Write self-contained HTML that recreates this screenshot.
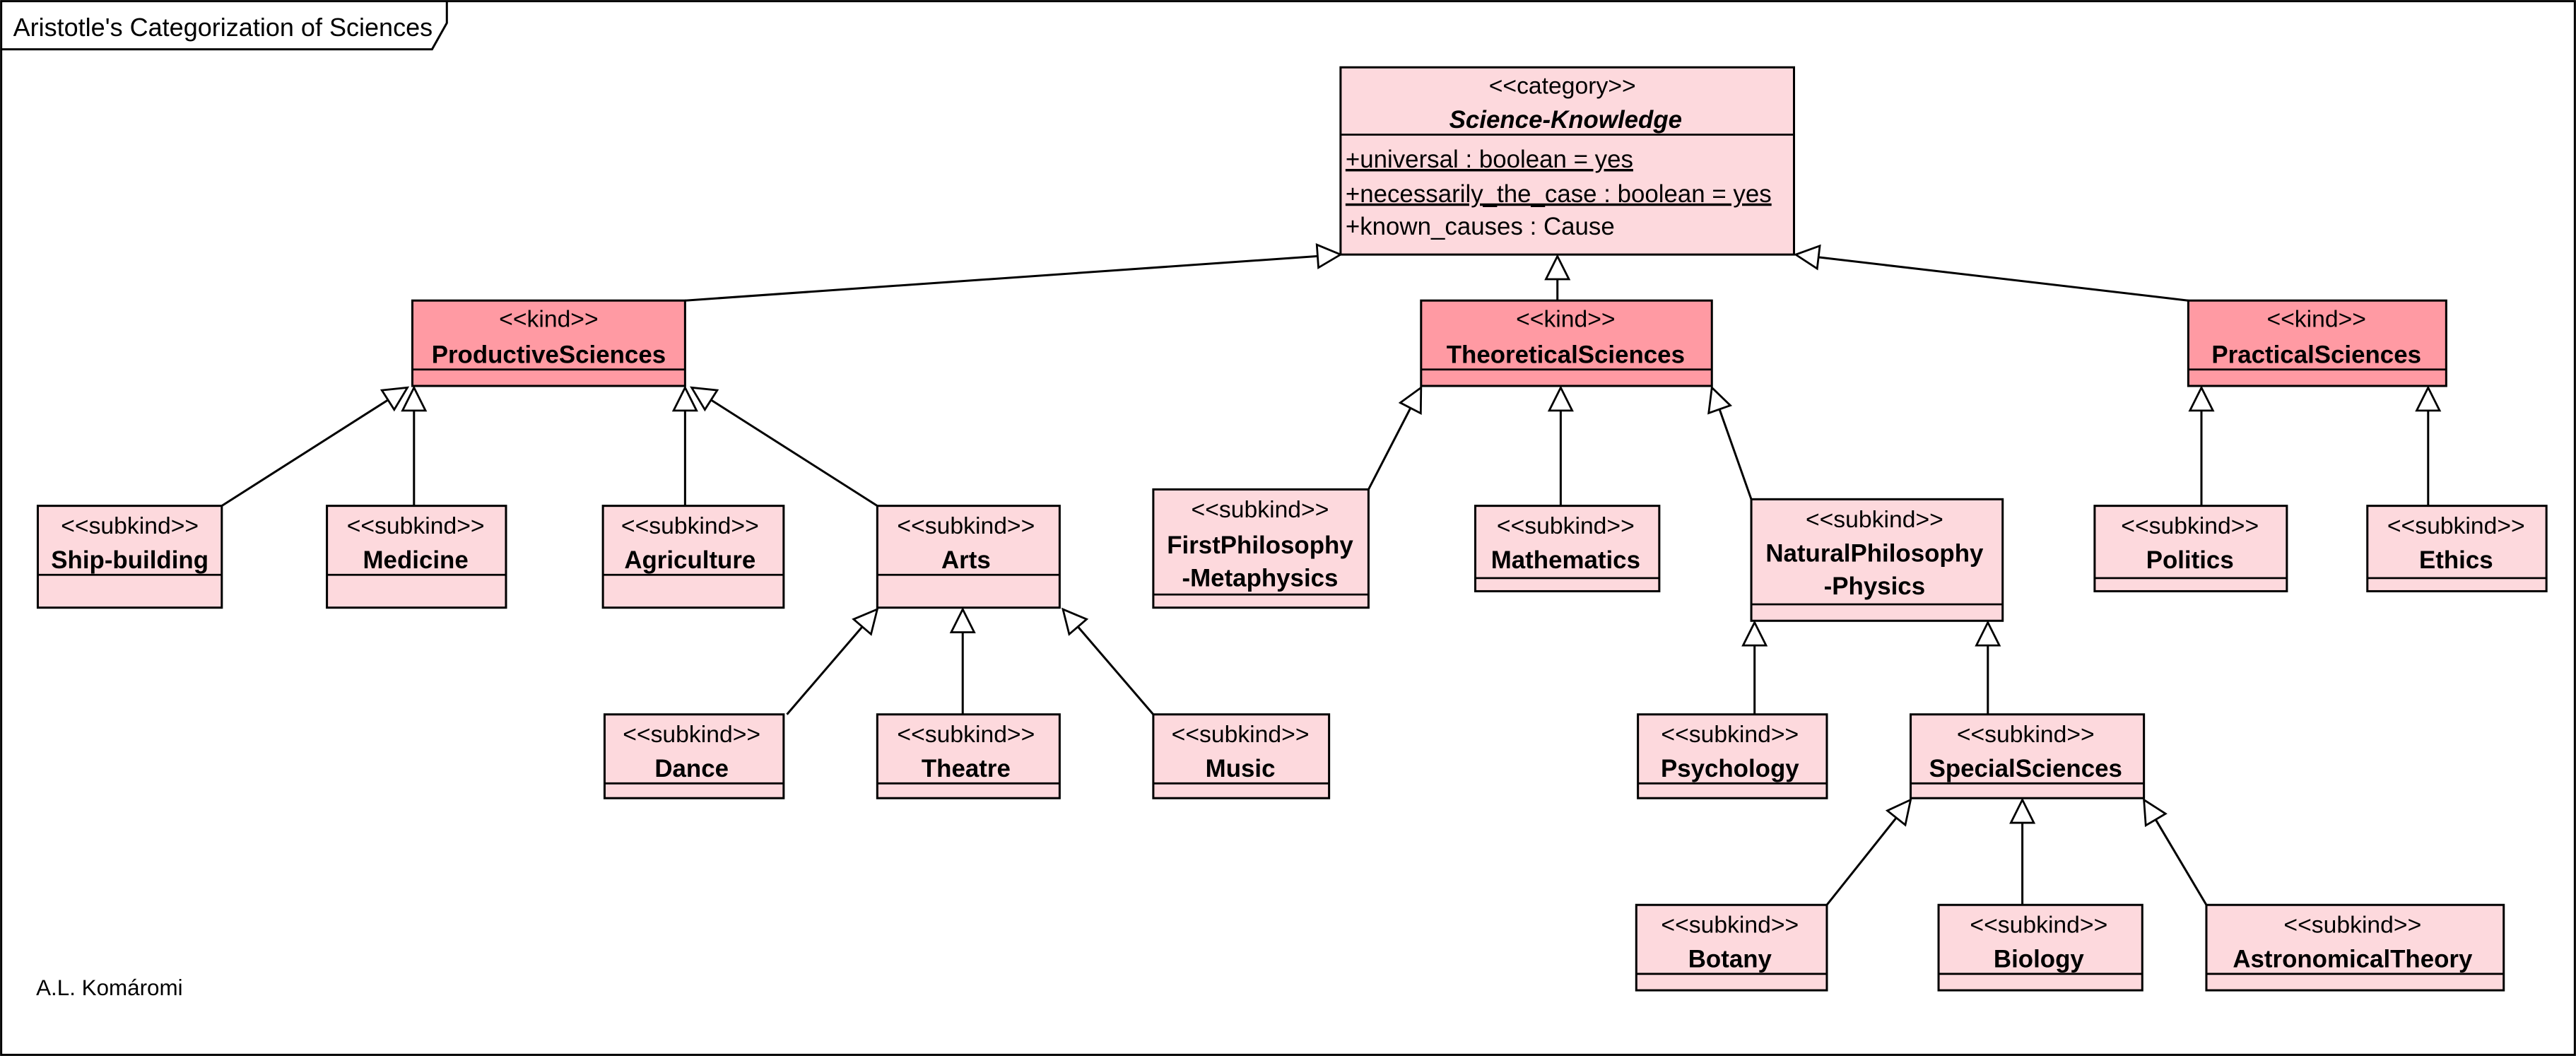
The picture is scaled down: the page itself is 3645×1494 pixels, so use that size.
<!DOCTYPE html>
<html><head><meta charset="utf-8"><style>
html,body{margin:0;padding:0;background:#fff;}
svg{display:block;}
text{font-family:"Liberation Sans",sans-serif;fill:#000;}
.st{font-size:14.5px;}
.nm{font-size:15px;font-weight:bold;}
.at{font-size:15px;}
.l{fill:#fdd9dd;stroke:#000;stroke-width:1.3;}
.d{fill:#ff9aa3;stroke:#000;stroke-width:1.3;}
.e{stroke:#000;stroke-width:1.3;fill:none;marker-end:url(#tri);}
.dv{stroke:#000;stroke-width:1.2;}
</style></head><body>
<svg width="3645" height="1494" viewBox="0 0 1568 643" preserveAspectRatio="none" xmlns="http://www.w3.org/2000/svg">
<defs>
<marker id="tri" markerUnits="userSpaceOnUse" markerWidth="20" markerHeight="20" refX="15" refY="8" orient="auto" viewBox="0 0 20 16">
<path d="M1,1 L15,8 L1,15 Z" fill="#fff" stroke="#000" stroke-width="1.2"/>
</marker>
</defs>
<rect x="0.7" y="0.7" width="1566.6" height="641.6" fill="#fff" stroke="#000" stroke-width="1.3"/>
<path d="M0.7,30 L263,30 L272,14 L272,0.7" fill="none" stroke="#000" stroke-width="1.3"/>
<text x="8" y="22" style="font-size:15.5px">Aristotle's Categorization of Sciences</text>
<text x="22" y="606" style="font-size:13.5px">A.L. Komáromi</text>

<line class="e" x1="417" y1="183" x2="816" y2="155"/>
<line class="e" x1="948" y1="183" x2="948" y2="156"/>
<line class="e" x1="1332" y1="183" x2="1093" y2="155"/>
<line class="e" x1="135" y1="308" x2="248" y2="236"/>
<line class="e" x1="252" y1="308" x2="252" y2="236"/>
<line class="e" x1="417" y1="308" x2="417" y2="236"/>
<line class="e" x1="534" y1="308" x2="421" y2="236"/>
<line class="e" x1="833" y1="298" x2="865" y2="236"/>
<line class="e" x1="950" y1="308" x2="950" y2="236"/>
<line class="e" x1="1066" y1="304" x2="1042" y2="236"/>
<line class="e" x1="1340" y1="308" x2="1340" y2="236"/>
<line class="e" x1="1478" y1="308" x2="1478" y2="236"/>
<line class="e" x1="479" y1="435" x2="534" y2="371"/>
<line class="e" x1="586" y1="435" x2="586" y2="371"/>
<line class="e" x1="702" y1="435" x2="647" y2="371"/>
<line class="e" x1="1068" y1="435" x2="1068" y2="379"/>
<line class="e" x1="1210" y1="435" x2="1210" y2="379"/>
<line class="e" x1="1112" y1="551" x2="1163" y2="487"/>
<line class="e" x1="1231" y1="551" x2="1231" y2="487"/>
<line class="e" x1="1343" y1="551" x2="1305" y2="487"/>

<rect class="l" x="816" y="41" width="276" height="114"/>
<line class="dv" x1="816" y1="82" x2="1092" y2="82"/>
<text class="st" x="951" y="57" text-anchor="middle">&lt;&lt;category&gt;&gt;</text>
<text class="nm" x="953" y="78" text-anchor="middle" font-style="italic">Science-Knowledge</text>
<text class="at" x="819" y="102" text-decoration="underline">+universal : boolean = yes</text>
<text class="at" x="819" y="123" text-decoration="underline">+necessarily_the_case : boolean = yes</text>
<text class="at" x="819" y="143">+known_causes : Cause</text>

<rect class="d" x="251" y="183" width="166" height="52"/><line class="dv" x1="251" y1="225" x2="417" y2="225"/>
<text class="st" x="334" y="199" text-anchor="middle">&lt;&lt;kind&gt;&gt;</text>
<text class="nm" x="334" y="221" text-anchor="middle">ProductiveSciences</text>
<rect class="d" x="865" y="183" width="177" height="52"/><line class="dv" x1="865" y1="225" x2="1042" y2="225"/>
<text class="st" x="953" y="199" text-anchor="middle">&lt;&lt;kind&gt;&gt;</text>
<text class="nm" x="953" y="221" text-anchor="middle">TheoreticalSciences</text>
<rect class="d" x="1332" y="183" width="157" height="52"/><line class="dv" x1="1332" y1="225" x2="1489" y2="225"/>
<text class="st" x="1410" y="199" text-anchor="middle">&lt;&lt;kind&gt;&gt;</text>
<text class="nm" x="1410" y="221" text-anchor="middle">PracticalSciences</text>

<g>
<rect class="l" x="23" y="308" width="112" height="62"/><line class="dv" x1="23" y1="350" x2="135" y2="350"/>
<text class="st" x="79" y="325" text-anchor="middle">&lt;&lt;subkind&gt;&gt;</text><text class="nm" x="79" y="346" text-anchor="middle">Ship-building</text>
<rect class="l" x="199" y="308" width="109" height="62"/><line class="dv" x1="199" y1="350" x2="308" y2="350"/>
<text class="st" x="253" y="325" text-anchor="middle">&lt;&lt;subkind&gt;&gt;</text><text class="nm" x="253" y="346" text-anchor="middle">Medicine</text>
<rect class="l" x="367" y="308" width="110" height="62"/><line class="dv" x1="367" y1="350" x2="477" y2="350"/>
<text class="st" x="420" y="325" text-anchor="middle">&lt;&lt;subkind&gt;&gt;</text><text class="nm" x="420" y="346" text-anchor="middle">Agriculture</text>
<rect class="l" x="534" y="308" width="111" height="62"/><line class="dv" x1="534" y1="350" x2="645" y2="350"/>
<text class="st" x="588" y="325" text-anchor="middle">&lt;&lt;subkind&gt;&gt;</text><text class="nm" x="588" y="346" text-anchor="middle">Arts</text>
<rect class="l" x="702" y="298" width="131" height="72"/><line class="dv" x1="702" y1="362" x2="833" y2="362"/>
<text class="st" x="767" y="315" text-anchor="middle">&lt;&lt;subkind&gt;&gt;</text><text class="nm" x="767" y="337" text-anchor="middle">FirstPhilosophy</text><text class="nm" x="767" y="357" text-anchor="middle">-Metaphysics</text>
<rect class="l" x="898" y="308" width="112" height="52"/><line class="dv" x1="898" y1="352" x2="1010" y2="352"/>
<text class="st" x="953" y="325" text-anchor="middle">&lt;&lt;subkind&gt;&gt;</text><text class="nm" x="953" y="346" text-anchor="middle">Mathematics</text>
<rect class="l" x="1066" y="304" width="153" height="74"/><line class="dv" x1="1066" y1="368" x2="1219" y2="368"/>
<text class="st" x="1141" y="321" text-anchor="middle">&lt;&lt;subkind&gt;&gt;</text><text class="nm" x="1141" y="342" text-anchor="middle">NaturalPhilosophy</text><text class="nm" x="1141" y="362" text-anchor="middle">-Physics</text>
<rect class="l" x="1275" y="308" width="117" height="52"/><line class="dv" x1="1275" y1="352" x2="1392" y2="352"/>
<text class="st" x="1333" y="325" text-anchor="middle">&lt;&lt;subkind&gt;&gt;</text><text class="nm" x="1333" y="346" text-anchor="middle">Politics</text>
<rect class="l" x="1441" y="308" width="109" height="52"/><line class="dv" x1="1441" y1="352" x2="1550" y2="352"/>
<text class="st" x="1495" y="325" text-anchor="middle">&lt;&lt;subkind&gt;&gt;</text><text class="nm" x="1495" y="346" text-anchor="middle">Ethics</text>

<rect class="l" x="368" y="435" width="109" height="51"/><line class="dv" x1="368" y1="477" x2="477" y2="477"/>
<text class="st" x="421" y="452" text-anchor="middle">&lt;&lt;subkind&gt;&gt;</text><text class="nm" x="421" y="473" text-anchor="middle">Dance</text>
<rect class="l" x="534" y="435" width="111" height="51"/><line class="dv" x1="534" y1="477" x2="645" y2="477"/>
<text class="st" x="588" y="452" text-anchor="middle">&lt;&lt;subkind&gt;&gt;</text><text class="nm" x="588" y="473" text-anchor="middle">Theatre</text>
<rect class="l" x="702" y="435" width="107" height="51"/><line class="dv" x1="702" y1="477" x2="809" y2="477"/>
<text class="st" x="755" y="452" text-anchor="middle">&lt;&lt;subkind&gt;&gt;</text><text class="nm" x="755" y="473" text-anchor="middle">Music</text>
<rect class="l" x="997" y="435" width="115" height="51"/><line class="dv" x1="997" y1="477" x2="1112" y2="477"/>
<text class="st" x="1053" y="452" text-anchor="middle">&lt;&lt;subkind&gt;&gt;</text><text class="nm" x="1053" y="473" text-anchor="middle">Psychology</text>
<rect class="l" x="1163" y="435" width="142" height="51"/><line class="dv" x1="1163" y1="477" x2="1305" y2="477"/>
<text class="st" x="1233" y="452" text-anchor="middle">&lt;&lt;subkind&gt;&gt;</text><text class="nm" x="1233" y="473" text-anchor="middle">SpecialSciences</text>
<rect class="l" x="996" y="551" width="116" height="52"/><line class="dv" x1="996" y1="593" x2="1112" y2="593"/>
<text class="st" x="1053" y="568" text-anchor="middle">&lt;&lt;subkind&gt;&gt;</text><text class="nm" x="1053" y="589" text-anchor="middle">Botany</text>
<rect class="l" x="1180" y="551" width="124" height="52"/><line class="dv" x1="1180" y1="593" x2="1304" y2="593"/>
<text class="st" x="1241" y="568" text-anchor="middle">&lt;&lt;subkind&gt;&gt;</text><text class="nm" x="1241" y="589" text-anchor="middle">Biology</text>
<rect class="l" x="1343" y="551" width="181" height="52"/><line class="dv" x1="1343" y1="593" x2="1524" y2="593"/>
<text class="st" x="1432" y="568" text-anchor="middle">&lt;&lt;subkind&gt;&gt;</text><text class="nm" x="1432" y="589" text-anchor="middle">AstronomicalTheory</text>
</g>
</svg>
</body></html>
